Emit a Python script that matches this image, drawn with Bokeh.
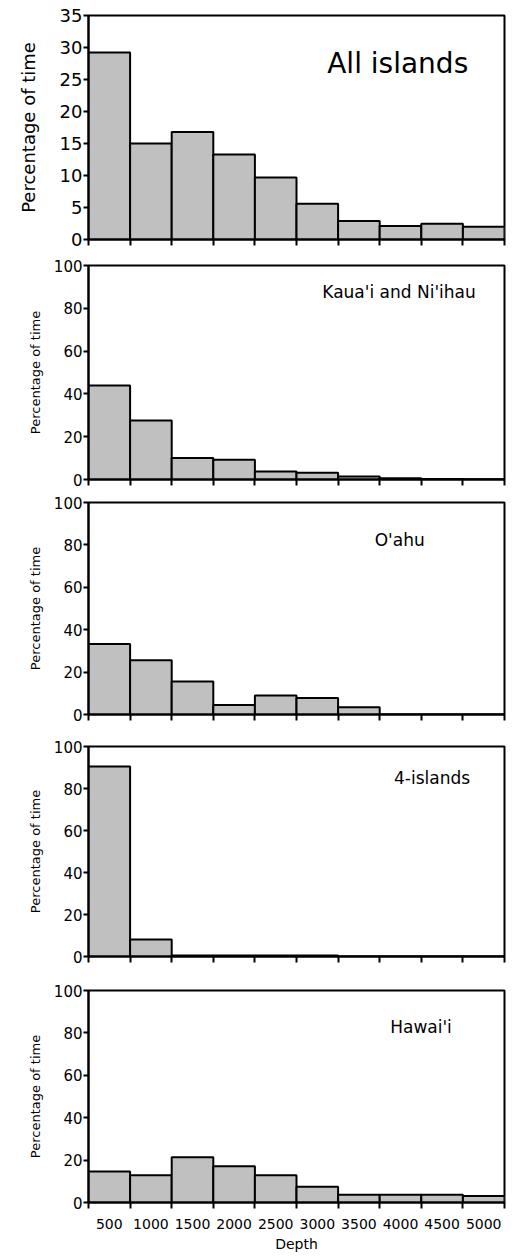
from bokeh.plotting import figure
from bokeh.layouts import column
from bokeh.models import Range1d, FixedTicker, Label
from bokeh.embed import file_html
from bokeh.resources import INLINE

# ---- data ----
depth_labels = ["500", "1000", "1500", "2000", "2500", "3000", "3500", "4000", "4500", "5000"]
depths = [500, 1000, 1500, 2000, 2500, 3000, 3500, 4000, 4500, 5000]
bin_width = 500

panel_titles = ["All islands", "Kaua'i and Ni'ihau", "O'ahu", "4-islands", "Hawai'i"]
all_islands = [29.2, 15.0, 16.8, 13.3, 9.7, 5.6, 2.9, 2.1, 2.45, 2.0]
kauai_niihau = [43.9, 27.6, 10.1, 9.2, 3.7, 3.1, 1.4, 0.6, 0.2, 0.1]
oahu = [33.2, 25.6, 15.6, 4.5, 9.0, 7.8, 3.4, 0.0, 0.0, 0.0]
four_islands = [90.5, 8.1, 0.5, 0.5, 0.5, 0.5, 0.0, 0.0, 0.0, 0.0]
hawaii = [14.6, 12.9, 21.3, 17.1, 12.9, 7.4, 3.6, 3.6, 3.6, 3.1]
series = [all_islands, kauai_niihau, oahu, four_islands, hawaii]

y_max = [35, 100, 100, 100, 100]
y_ticks = [[0, 5, 10, 15, 20, 25, 30, 35]] + [[0, 20, 40, 60, 80, 100]] * 4

FONT = "DejaVu Sans"

# layout (pixels) per panel
heights = [250, 240, 235, 241, 288]
b_top = [15, 15, 12, 21, 24]
b_bottom = [11, 11, 11, 10, 52]
b_right = [8, 5, 2, 2, 4]
title_pos = [(2869, 27.5), (2810, 87.4), (3440, 82.5), (3672, 85.1), (3626, 82.7)]
title_size = ["28px", "17px", "17px", "17px", "17px"]
tick_size = ["18px", "15px", "15px", "15px", "15px"]
ylabel_size = ["18px", "13px", "13px", "13px", "13px"]
ylabel_standoff = [18, 8, 8, 8, 8]

lefts = [d - bin_width for d in depths]
centers = [d - bin_width / 2 for d in depths]
edges = [0] + depths

figs = []
for i, vals in enumerate(series):
    last = i == len(series) - 1
    p = figure(width=512, height=heights[i], output_backend="svg", toolbar_location=None,
               x_range=Range1d(0, depths[-1]), y_range=Range1d(0, y_max[i]),
               min_border_left=88, min_border_right=b_right[i],
               min_border_top=b_top[i], min_border_bottom=b_bottom[i])
    p.grid.visible = False
    p.outline_line_color = "black"
    p.outline_line_width = 2
    p.background_fill_color = "white"
    p.border_fill_color = "white"

    p.quad(left=lefts, right=depths, bottom=0, top=vals,
           fill_color="#c0c0c0", line_color="black", line_width=2)

    # x axis
    xa = p.xaxis[0]
    xa.major_tick_out = 0
    xa.major_tick_in = 0
    xa.minor_tick_out = 6
    xa.minor_tick_in = 0
    xa.minor_tick_line_color = "black"
    xa.minor_tick_line_width = 2
    xa.axis_line_color = "black"
    xa.axis_line_width = 2
    if last:
        xa.ticker = FixedTicker(ticks=centers, minor_ticks=edges)
        xa.major_label_overrides = {c: lab for c, lab in zip(centers, depth_labels)}
        xa.major_label_text_font = FONT
        xa.major_label_text_font_size = "14px"
        xa.major_label_text_color = "black"
        xa.major_label_standoff = 10
        xa.axis_label = "Depth"
        xa.axis_label_text_font = FONT
        xa.axis_label_text_font_size = "14px"
        xa.axis_label_text_font_style = "normal"
        xa.axis_label_text_color = "black"
        xa.axis_label_standoff = 4
    else:
        xa.ticker = FixedTicker(ticks=[], minor_ticks=edges)
        xa.major_label_standoff = 0

    # y axis
    ya = p.yaxis[0]
    ya.ticker = FixedTicker(ticks=y_ticks[i])
    ya.minor_tick_line_color = None
    ya.major_tick_out = 5
    ya.major_tick_in = 0
    ya.major_tick_line_color = "black"
    ya.major_tick_line_width = 2
    ya.axis_line_color = "black"
    ya.axis_line_width = 2
    ya.major_label_text_font = FONT
    ya.major_label_text_font_size = tick_size[i]
    ya.major_label_text_color = "black"
    ya.major_label_standoff = 1
    ya.axis_label = "Percentage of time"
    ya.axis_label_text_font = FONT
    ya.axis_label_text_font_size = ylabel_size[i]
    ya.axis_label_text_font_style = "normal"
    ya.axis_label_text_color = "black"
    ya.axis_label_standoff = ylabel_standoff[i]

    tx, ty = title_pos[i]
    p.add_layout(Label(x=tx, y=ty, text=panel_titles[i], text_font=FONT,
                       text_font_size=title_size[i], text_color="black",
                       text_align="left", text_baseline="middle"))
    figs.append(p)

layout = column(*figs, spacing=0)
open("out.html", "w").write(file_html(layout, INLINE))
